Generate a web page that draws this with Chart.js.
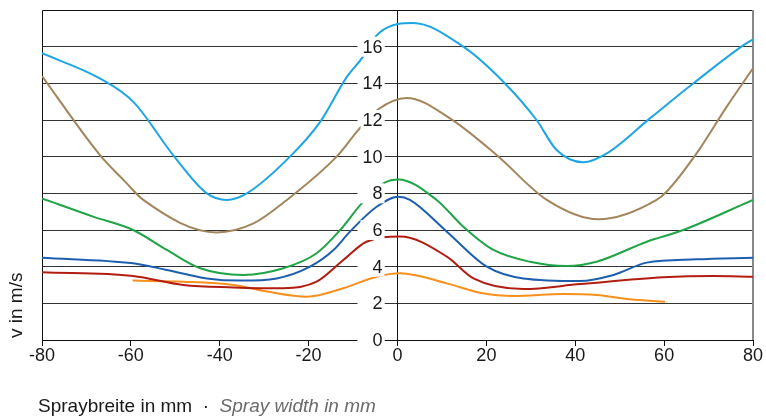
<!DOCTYPE html>
<html>
<head>
    <title>Spraybreite</title>
    <script src="https://cdn.jsdelivr.net/npm/chart.js"></script>
    <style>
        body { margin: 0; background: #fff; }
        #wrap { width: 766px; height: 418px; position: relative; }
    </style>
</head>
<body>
    <div id="wrap"><canvas id="spray-chart"></canvas></div>

    <script>
        // tick labels
        const xTicks = [-80, -60, -40, -20, 0, 20, 40, 60, 80];
        const yTicks = [0, 2, 4, 6, 8, 10, 12, 14, 16];

        // series (x in mm, v in m/s)
        const lightBlueX = [-80, -67, -59.5, -50.5, -42.9, -38.4, -33.9, -24.2, -17.4, -11.4, -7.8, -5.5, -3.9, -2.1, 0.1, 3.5, 14.8, 23.8, 31.3, 35.8, 41.8, 47.1, 56.8, 66.6, 77.4, 80];
        const lightBlueY = [15.64, 14.27, 13.0, 10.09, 8.0, 7.64, 8.0, 10.0, 11.9, 14.35, 15.44, 16.37, 16.8, 17.07, 17.24, 17.29, 16.0, 14.09, 12.0, 10.36, 9.69, 10.18, 12.09, 14.0, 16.0, 16.4];

        const brownX = [-80, -67, -61.3, -57.2, -40.7, -32.4, -24.9, -13.7, -8.8, -4.4, 2.1, 11.8, 22.3, 33.6, 45.2, 58.3, 60.6, 67.3, 74.1, 80];
        const brownY = [14.4, 10.1, 8.64, 7.64, 5.87, 6.36, 7.64, 10.0, 11.46, 12.57, 13.2, 12.09, 10.09, 7.64, 6.58, 7.64, 8.1, 10.18, 12.73, 14.82];

        const greenX = [-80, -68.5, -59.5, -51.9, -44.4, -34.7, -25.7, -18.2, -12.9, -8.05, -2.9, 0.2, 8.8, 14.8, 21.6, 29.8, 38.1, 44.8, 56.1, 64.3, 80];
        const greenY = [7.72, 6.73, 6.0, 4.91, 3.91, 3.55, 3.91, 4.73, 6.0, 7.45, 8.58, 8.76, 7.64, 6.18, 4.91, 4.27, 4.04, 4.27, 5.36, 6.0, 7.64];

        const darkBlueX = [-80, -59.5, -51.9, -42.9, -35.4, -27.2, -19.7, -14.4, -10.7, -4.7, 0.2, 2.8, 11.1, 20.1, 28.3, 41.1, 48.6, 56.1, 67.3, 80];
        const darkBlueY = [4.49, 4.18, 3.82, 3.36, 3.24, 3.36, 4.0, 4.91, 5.91, 7.27, 7.82, 7.64, 5.91, 4.0, 3.36, 3.22, 3.55, 4.22, 4.4, 4.49];

        const redX = [-80, -59.5, -48.2, -36.9, -25.7, -18.2, -12.2, -7.0, 0.6, 11.1, 17.1, 28.3, 41.1, 59.8, 71.1, 80];
        const redY = [3.69, 3.49, 3.0, 2.87, 2.82, 3.18, 4.36, 5.36, 5.64, 4.55, 3.36, 2.78, 3.05, 3.42, 3.49, 3.45];

        const orangeX = [-59.6, -48.2, -36.9, -29.4, -20.4, -12.2, -4.7, 0.6, 11.1, 18.6, 26.1, 37.3, 44.8, 52.3, 60.2];
        const orangeY = [3.24, 3.18, 3.0, 2.64, 2.36, 2.82, 3.45, 3.64, 3.09, 2.58, 2.40, 2.51, 2.45, 2.22, 2.09];

        const seriesX = [lightBlueX, brownX, greenX, darkBlueX, redX, orangeX];
        const seriesY = [lightBlueY, brownY, greenY, darkBlueY, redY, orangeY];
        const seriesColors = ['#1ea6e2', '#a3855c', '#1fa447', '#1d5fae', '#b21d12', '#f6911e'];

        const FONT = '"Liberation Sans", Arial, sans-serif';

        const datasets = seriesX.map((xs, i) => ({
            data: xs.map((x, j) => ({ x: x, y: seriesY[i][j] })),
            borderColor: seriesColors[i],
            borderWidth: 2,
            pointRadius: 0,
            fill: false,
            cubicInterpolationMode: 'monotone'
        }));

        // frame, gaps in the grid lines, y tick labels at the centre axis, axis titles
        const decorations = {
            id: 'decorations',
            beforeDatasetsDraw(chart) {
                const ctx = chart.ctx;
                const a = chart.chartArea;
                const x0 = chart.scales.x.getPixelForValue(0);
                ctx.save();
                // grid lines stop where the labels sit
                ctx.fillStyle = '#fff';
                yTicks.forEach(v => {
                    const py = chart.scales.y.getPixelForValue(v);
                    ctx.fillRect(x0 - 40, py - 2, 27, 4);
                });
                ctx.lineWidth = 1;
                ctx.strokeStyle = '#111';
                ctx.beginPath();
                ctx.moveTo(a.left + 0.5, a.bottom);
                ctx.lineTo(a.left + 0.5, a.top + 0.5);
                ctx.lineTo(a.right, a.top + 0.5);
                ctx.stroke();
                ctx.strokeStyle = '#888';
                ctx.lineWidth = 2;
                ctx.beginPath();
                ctx.moveTo(a.right, a.top);
                ctx.lineTo(a.right, a.bottom);
                ctx.stroke();
                ctx.restore();
            },
            afterDatasetsDraw(chart) {
                const ctx = chart.ctx;
                const x0 = chart.scales.x.getPixelForValue(0);
                ctx.save();
                ctx.font = '18px ' + FONT;
                ctx.textAlign = 'right';
                ctx.textBaseline = 'middle';
                yTicks.forEach(v => {
                    const py = chart.scales.y.getPixelForValue(v);
                    ctx.fillStyle = '#fff';
                    ctx.fillRect(x0 - 37, py - 10, 24, 20);
                    ctx.fillStyle = '#1a1a1a';
                    ctx.fillText(String(v), x0 - 15, py + 1);
                });
                ctx.restore();
            },
            afterDraw(chart) {
                const ctx = chart.ctx;
                ctx.save();
                ctx.textBaseline = 'alphabetic';
                ctx.textAlign = 'left';
                let x = 38;
                const y = 412;
                ctx.font = '19px ' + FONT;
                ctx.fillStyle = '#1a1a1a';
                const part1 = 'Spraybreite in mm  ·  ';
                ctx.fillText(part1, x, y);
                x += ctx.measureText(part1).width;
                ctx.font = 'italic 19px ' + FONT;
                ctx.fillStyle = '#6b6b6b';
                ctx.fillText('Spray width in mm', x, y);

                ctx.translate(22, 338);
                ctx.rotate(-Math.PI / 2);
                ctx.font = '19px ' + FONT;
                ctx.fillStyle = '#1a1a1a';
                ctx.fillText('v in m/s', 0, 0);
                ctx.restore();
            }
        };

        const ctx = document.getElementById('spray-chart').getContext('2d');
        const sprayChart = new Chart(ctx, {
            type: 'line',
            data: { datasets: datasets },
            plugins: [decorations],
            options: {
                responsive: true,
                maintainAspectRatio: false,
                animation: false,
                layout: { padding: { left: 42, right: 13, top: 10, bottom: 78 } },
                plugins: {
                    legend: { display: false },
                    tooltip: { enabled: false }
                },
                scales: {
                    x: {
                        type: 'linear',
                        min: -80,
                        max: 80,
                        position: { y: 0 },
                        afterBuildTicks: (scale) => { scale.ticks = xTicks.map(v => ({ value: v })); },
                        grid: { drawOnChartArea: false, drawTicks: true, tickLength: 5, color: '#111' },
                        border: { display: true, color: '#111', width: 1 },
                        ticks: {
                            color: '#1a1a1a',
                            padding: 0,
                            maxRotation: 0,
                            font: { family: FONT, size: 18 }
                        }
                    },
                    y: {
                        type: 'linear',
                        min: 0,
                        max: 18,
                        position: { x: 0 },
                        afterBuildTicks: (scale) => { scale.ticks = yTicks.map(v => ({ value: v })); },
                        grid: { color: '#333', lineWidth: 1, tickLength: 13 },
                        border: { display: true, color: '#111', width: 1 },
                        ticks: { display: false }
                    }
                }
            }
        });
    </script>
</body>
</html>
